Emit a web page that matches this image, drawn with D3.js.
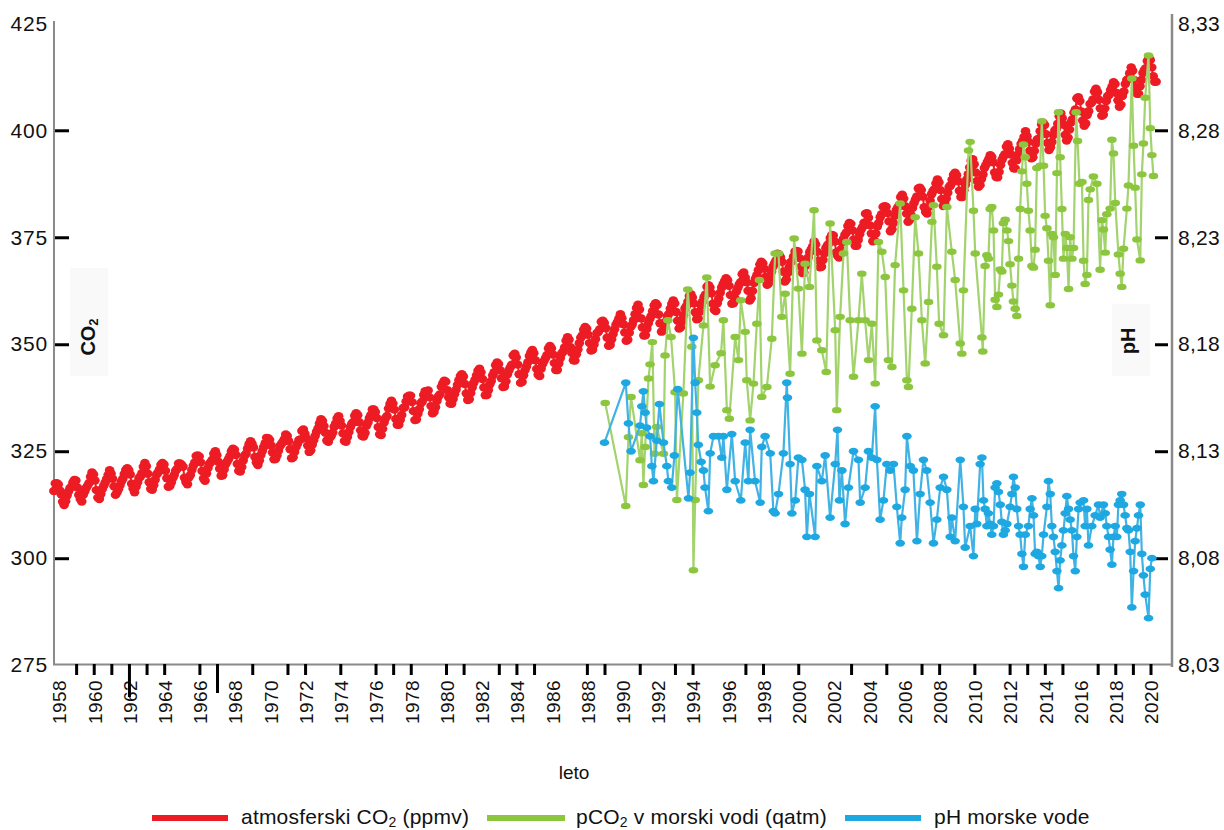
<!DOCTYPE html>
<html>
<head>
<meta charset="utf-8">
<script src="https://cdn.jsdelivr.net/npm/d3@7"></script>
<style>
  html, body { margin: 0; padding: 0; background: #fff; }
  svg { display: block; font-family: "Liberation Sans", Arial, Helvetica, sans-serif; }
</style>
</head>
<body>
<svg id="chart" width="1224" height="830"></svg>
<script>
// Atmospheric CO2 (Mauna Loa), monthly means in ppmv, one row per year from 1958
const co2FirstYear = 1958;
const co2Monthly = [
  [null,null,315.70,317.45,317.51,317.24,315.86,314.93,313.20,312.43,313.33,314.67],
  [315.62,316.38,316.71,317.72,318.29,318.15,316.54,314.80,313.84,313.26,314.80,315.58],
  [316.43,316.97,317.58,319.02,320.03,319.59,318.18,315.91,314.16,313.83,315.00,316.19],
  [316.93,317.70,318.54,319.48,320.58,319.77,318.57,316.79,314.80,315.38,316.10,317.01],
  [317.94,318.56,319.68,320.63,321.01,320.55,319.58,317.40,316.26,315.42,316.69,317.69],
  [318.74,319.08,319.86,321.39,322.25,321.47,319.74,317.77,316.21,315.99,317.07,318.35],
  [319.57,320.01,320.74,321.84,322.26,321.89,320.44,318.69,316.70,316.87,317.68,318.71],
  [319.44,320.44,320.89,322.13,322.16,321.87,321.39,318.81,317.81,317.30,318.87,319.42],
  [320.62,321.59,322.39,323.87,324.01,323.75,322.39,320.37,318.64,318.10,319.79,321.08],
  [322.07,322.50,323.04,324.42,325.00,324.09,322.54,320.92,319.25,319.39,320.73,321.96],
  [322.57,323.15,323.89,325.02,325.57,325.36,324.14,322.03,320.41,320.25,321.31,322.84],
  [324.00,324.42,325.64,326.66,327.34,326.76,325.88,323.67,322.38,321.78,322.85,324.11],
  [325.03,325.99,326.87,328.13,328.07,327.66,326.35,324.69,323.10,323.16,323.98,325.13],
  [326.17,326.68,327.18,327.78,328.92,328.57,327.34,325.46,323.36,323.57,324.80,326.01],
  [326.77,327.63,327.75,329.72,330.07,329.09,328.04,326.32,324.84,325.20,326.50,327.55],
  [328.55,329.56,330.30,331.50,332.48,332.07,330.87,329.31,327.51,327.18,328.16,328.64],
  [329.35,330.71,331.48,332.65,333.16,332.06,330.99,329.17,327.41,327.20,328.33,329.50],
  [330.68,331.41,331.85,333.29,333.91,333.40,331.78,329.88,328.57,328.46,329.26,330.97],
  [331.71,332.76,333.48,334.78,334.78,334.17,332.78,330.64,328.95,328.77,330.23,331.69],
  [332.70,333.24,334.96,336.04,336.82,336.13,334.73,332.52,331.19,331.19,332.35,333.47],
  [335.11,335.26,336.60,337.77,338.00,337.99,336.48,334.37,332.27,332.41,333.76,334.83],
  [336.21,336.64,338.12,339.02,339.02,339.20,337.58,335.55,333.89,334.14,335.26,336.71],
  [337.81,338.29,340.04,340.86,341.47,341.26,339.29,337.60,336.12,336.08,337.22,338.34],
  [339.36,340.51,341.57,342.56,343.01,342.47,340.71,338.52,336.96,337.13,338.58,339.89],
  [340.93,341.69,342.69,343.79,344.30,343.43,341.88,339.89,338.10,338.11,339.27,340.67],
  [341.42,342.68,343.46,345.10,345.76,345.36,343.91,342.05,340.00,340.12,341.33,342.94],
  [343.87,344.60,345.20,347.36,347.81,346.92,345.25,343.00,340.97,341.20,342.76,343.96],
  [344.82,345.82,347.24,348.09,348.66,347.90,346.27,344.21,342.88,342.58,344.27,345.41],
  [346.12,346.78,347.48,349.03,349.62,349.03,347.62,345.59,343.99,343.99,345.48,346.72],
  [347.84,348.29,349.23,350.80,351.66,351.07,349.33,347.92,346.27,346.18,347.64,348.78],
  [350.25,351.54,352.05,353.41,354.04,353.62,352.22,350.27,348.55,348.72,349.91,351.18],
  [352.60,352.92,353.53,355.26,355.52,354.97,353.75,351.52,349.64,349.83,351.14,352.37],
  [353.50,354.55,355.23,356.04,357.00,356.07,354.67,352.76,350.82,351.04,352.69,354.07],
  [354.59,355.63,357.03,358.48,359.22,358.12,356.06,353.92,352.05,352.11,353.64,354.89],
  [355.88,356.63,357.72,359.07,359.58,359.17,356.94,354.92,352.94,353.23,354.09,355.33],
  [356.63,357.10,358.32,359.41,360.23,359.55,357.53,355.48,353.67,353.95,355.30,356.78],
  [358.34,358.89,359.95,361.25,361.67,360.94,359.55,357.49,355.84,356.00,357.58,359.04],
  [359.97,361.00,361.64,363.45,363.79,363.26,361.90,359.46,358.06,357.75,359.56,360.70],
  [362.05,363.25,364.03,364.72,365.41,364.97,363.65,361.49,359.46,359.60,360.76,362.33],
  [363.18,364.00,364.57,366.35,366.79,365.62,364.47,362.51,360.19,360.77,362.43,364.28],
  [365.32,366.15,367.31,368.61,369.30,368.88,367.64,365.78,363.90,364.23,365.46,366.97],
  [368.15,368.87,369.59,371.14,371.00,370.35,369.27,366.94,364.63,365.12,366.67,368.01],
  [369.14,369.46,370.52,371.66,371.82,371.70,370.12,368.12,366.62,366.73,368.29,369.53],
  [370.28,371.50,372.12,372.87,374.02,373.30,371.62,369.55,367.96,368.09,369.68,371.24],
  [372.44,373.08,373.52,374.85,375.55,375.40,374.02,371.48,370.70,370.25,372.08,373.78],
  [374.68,375.62,376.11,377.65,378.35,378.13,376.62,374.50,372.99,373.01,374.35,375.70],
  [376.79,377.37,378.41,380.52,380.63,379.57,377.79,375.86,374.06,374.24,375.86,377.48],
  [378.37,379.69,380.41,382.10,382.28,382.13,380.66,378.71,376.42,376.88,378.32,380.04],
  [381.36,381.98,382.48,384.34,384.92,384.03,382.26,380.52,378.63,379.01,380.17,381.85],
  [382.93,383.81,384.56,386.40,386.58,386.05,384.49,382.00,380.90,380.57,382.05,383.53],
  [385.05,385.79,386.25,387.57,388.50,387.81,386.01,383.95,382.31,382.80,384.05,385.41],
  [386.77,387.16,388.45,389.62,390.08,389.51,388.09,385.87,384.39,384.39,385.98,387.27],
  [388.52,389.76,391.30,392.88,393.23,392.06,390.13,388.15,386.80,387.18,388.59,389.68],
  [391.18,391.86,392.60,393.25,394.19,393.74,392.51,390.13,389.08,388.99,390.28,391.86],
  [393.12,393.86,394.40,396.18,396.74,395.71,394.36,392.39,391.11,391.05,392.98,394.34],
  [395.55,396.80,397.43,398.41,399.78,398.60,397.32,395.20,393.45,393.70,395.16,396.84],
  [397.85,398.01,399.77,401.38,401.78,401.25,399.10,397.03,395.38,396.03,397.28,398.91],
  [399.98,400.28,401.54,403.28,403.96,402.80,401.31,398.93,397.63,398.29,400.16,401.85],
  [402.56,404.12,404.87,407.45,407.72,406.83,404.41,402.27,401.05,401.59,403.55,404.45],
  [406.17,406.46,407.22,409.04,409.69,408.88,407.12,405.13,403.37,403.63,405.12,406.81],
  [407.96,408.32,409.41,410.24,411.24,410.79,408.71,406.99,405.51,406.00,408.02,409.07],
  [410.83,411.75,411.97,413.32,414.66,413.92,411.77,409.95,408.54,408.53,410.27,411.76],
  [413.40,414.11,414.50,416.21,417.07,416.39,414.70,412.65,411.34,411.36,null,null]
];

// Surface seawater pCO2 (µatm): [decimal year, value]
const pco2Sea = [
  [1989.51,336.3],[1990.68,312.2],[1990.83,328.3],[1990.98,337.7],[1991.49,322.9],[1991.59,329.2],
  [1991.68,317.1],[1991.78,326.0],[1991.97,342.0],[1992.06,345.3],[1992.19,350.5],[1992.31,324.4],
  [1992.44,330.7],[1992.82,324.4],[1992.91,347.4],[1993.07,355.6],[1993.25,351.7],[1993.48,338.8],
  [1993.58,313.6],[1993.95,338.5],[1994.20,362.8],[1994.43,349.4],[1994.52,297.2],[1994.62,313.6],
  [1994.80,341.6],[1995.09,354.4],[1995.28,365.6],[1995.47,340.1],[1995.75,345.1],[1996.09,347.9],
  [1996.22,355.6],[1996.42,334.6],[1996.56,332.6],[1996.89,351.7],[1997.08,346.3],[1997.21,360.3],
  [1997.46,352.9],[1997.55,341.6],[1997.74,332.2],[1997.93,340.8],[1998.12,354.8],[1998.27,365.0],
  [1998.40,337.7],[1998.69,340.0],[1998.97,351.3],[1999.16,371.2],[1999.35,371.2],[1999.54,356.4],
  [1999.73,361.8],[2000.01,343.1],[2000.24,374.7],[2000.48,363.0],[2000.68,347.8],[2000.86,368.8],
  [2001.11,363.4],[2001.37,381.3],[2001.53,350.9],[2001.81,348.6],[2002.06,343.5],[2002.28,378.2],
  [2002.57,353.3],[2002.66,334.6],[2002.85,356.4],[2003.04,371.2],[2003.23,373.9],[2003.42,355.6],
  [2003.61,342.4],[2003.89,355.6],[2004.08,366.5],[2004.27,355.6],[2004.46,346.3],[2004.65,354.8],
  [2004.84,340.8],[2005.03,373.9],[2005.22,371.6],[2005.41,365.7],[2005.59,346.3],[2005.79,344.7],
  [2005.97,368.5],[2006.26,382.9],[2006.45,362.6],[2006.64,341.6],[2006.73,340.0],[2006.92,358.3],
  [2007.11,379.7],[2007.30,371.2],[2007.49,355.6],[2007.68,345.5],[2007.87,359.9],[2008.06,378.6],
  [2008.15,382.5],[2008.34,368.1],[2008.47,354.8],[2008.72,352.1],[2008.91,382.1],[2009.19,371.6],
  [2009.38,365.0],[2009.67,350.2],[2009.76,347.8],[2009.85,362.6],[2010.14,395.3],[2010.23,397.3],
  [2010.42,381.2],[2010.52,371.2],[2010.90,351.6],[2010.95,348.3],[2011.08,368.3],[2011.18,370.8],
  [2011.27,370.0],[2011.37,381.6],[2011.46,382.1],[2011.56,376.6],[2011.65,360.4],[2011.75,358.7],
  [2011.84,361.6],[2011.94,367.5],[2012.03,367.0],[2012.12,378.3],[2012.22,379.1],[2012.32,376.6],
  [2012.41,374.1],[2012.50,368.7],[2012.60,363.7],[2012.69,360.0],[2012.79,358.3],[2012.88,356.6],
  [2012.98,370.0],[2013.07,381.6],[2013.17,390.4],[2013.26,396.7],[2013.36,393.7],[2013.45,387.5],
  [2013.54,381.2],[2013.64,376.6],[2013.74,368.3],[2013.83,367.9],[2013.92,372.1],[2014.02,391.2],
  [2014.21,391.7],[2014.30,402.1],[2014.40,391.7],[2014.49,380.0],[2014.59,377.1],[2014.68,369.5],
  [2014.78,359.1],[2014.87,375.8],[2014.96,375.0],[2015.06,366.2],[2015.16,390.0],[2015.25,404.2],
  [2015.34,393.7],[2015.44,381.6],[2015.53,370.0],[2015.63,375.8],[2015.72,372.5],[2015.82,362.9],
  [2015.91,375.0],[2016.01,370.0],[2016.10,372.5],[2016.25,404.2],[2016.33,397.5],[2016.44,387.5],
  [2016.58,387.9],[2016.67,369.5],[2016.76,364.1],[2016.86,366.2],[2016.95,383.7],[2017.05,386.2],
  [2017.23,389.2],[2017.43,387.5],[2017.61,367.4],[2017.71,379.0],[2017.80,376.8],[2017.90,371.4],
  [2017.99,380.4],[2018.18,381.7],[2018.28,397.8],[2018.37,394.6],[2018.47,383.0],[2018.65,371.0],
  [2018.75,366.5],[2018.84,363.4],[2018.94,372.3],[2019.13,381.7],[2019.22,387.1],[2019.41,412.1],
  [2019.51,396.4],[2019.60,386.6],[2019.70,374.5],[2019.89,369.6],[2019.98,389.7],[2020.07,396.9],
  [2020.17,407.6],[2020.36,417.5],[2020.46,400.5],[2020.55,394.2],[2020.64,389.3]
];

// Surface seawater pH: [decimal year, value]
const phSea = [
  [1989.47,8.134],[1990.68,8.162],[1990.83,8.143],[1990.98,8.130],[1991.49,8.142],[1991.59,8.151],
  [1991.68,8.158],[1991.78,8.148],[1991.87,8.141],[1992.06,8.137],[1992.16,8.123],[1992.25,8.116],
  [1992.44,8.135],[1992.59,8.152],[1992.82,8.134],[1993.01,8.123],[1993.10,8.116],[1993.29,8.113],
  [1993.44,8.128],[1993.63,8.159],[1994.24,8.108],[1994.33,8.120],[1994.52,8.183],[1994.62,8.162],
  [1994.71,8.148],[1994.80,8.133],[1994.96,8.125],[1995.09,8.121],[1995.18,8.113],[1995.37,8.102],
  [1995.47,8.129],[1995.66,8.137],[1995.94,8.137],[1996.13,8.127],[1996.22,8.137],[1996.42,8.112],
  [1996.70,8.138],[1996.89,8.116],[1997.21,8.107],[1997.46,8.134],[1997.64,8.116],[1997.74,8.140],
  [1998.02,8.116],[1998.31,8.106],[1998.40,8.132],[1998.59,8.137],[1998.88,8.129],[1999.06,8.102],
  [1999.16,8.101],[1999.35,8.110],[1999.63,8.129],[1999.82,8.162],[1999.86,8.155],[2000.01,8.124],
  [2000.11,8.101],[2000.30,8.107],[2000.48,8.127],[2000.68,8.126],[2000.86,8.112],[2000.96,8.090],
  [2001.11,8.110],[2001.43,8.090],[2001.53,8.123],[2001.81,8.116],[2002.00,8.128],[2002.28,8.099],
  [2002.57,8.124],[2002.70,8.140],[2002.81,8.107],[2002.95,8.121],[2003.13,8.096],[2003.32,8.113],
  [2003.61,8.130],[2003.89,8.126],[2003.99,8.106],[2004.27,8.113],[2004.46,8.130],[2004.65,8.127],
  [2004.84,8.151],[2004.94,8.126],[2005.12,8.098],[2005.31,8.107],[2005.50,8.124],[2005.69,8.121],
  [2005.88,8.124],[2006.07,8.104],[2006.26,8.087],[2006.35,8.099],[2006.54,8.112],[2006.64,8.137],
  [2006.83,8.123],[2007.01,8.121],[2007.21,8.088],[2007.39,8.110],[2007.58,8.126],[2007.77,8.121],
  [2007.96,8.106],[2008.15,8.087],[2008.34,8.098],[2008.53,8.113],[2008.72,8.118],[2008.91,8.112],
  [2009.10,8.090],[2009.19,8.099],[2009.38,8.088],[2009.67,8.126],[2009.85,8.104],[2009.95,8.085],
  [2010.23,8.095],[2010.42,8.081],[2010.52,8.103],[2010.61,8.096],[2010.80,8.124],[2010.90,8.127],
  [2010.99,8.107],[2011.08,8.103],[2011.18,8.095],[2011.27,8.101],[2011.37,8.096],[2011.46,8.091],
  [2011.56,8.095],[2011.65,8.113],[2011.75,8.115],[2011.84,8.111],[2011.94,8.105],[2012.03,8.097],
  [2012.12,8.091],[2012.22,8.093],[2012.32,8.096],[2012.50,8.104],[2012.60,8.110],[2012.69,8.118],
  [2012.79,8.113],[2012.88,8.103],[2012.98,8.095],[2013.07,8.091],[2013.17,8.082],[2013.26,8.076],
  [2013.36,8.091],[2013.54,8.095],[2013.64,8.103],[2013.74,8.108],[2013.83,8.100],[2013.92,8.082],
  [2014.02,8.083],[2014.11,8.081],[2014.21,8.076],[2014.30,8.081],[2014.40,8.091],[2014.59,8.104],
  [2014.68,8.116],[2014.78,8.110],[2014.87,8.095],[2014.96,8.090],[2015.06,8.083],[2015.16,8.074],
  [2015.25,8.066],[2015.34,8.079],[2015.44,8.086],[2015.53,8.093],[2015.63,8.101],[2015.72,8.109],
  [2015.82,8.103],[2015.91,8.098],[2016.01,8.093],[2016.10,8.081],[2016.20,8.074],[2016.29,8.090],
  [2016.39,8.103],[2016.48,8.106],[2016.67,8.107],[2016.76,8.095],[2016.86,8.103],[2016.95,8.086],
  [2017.14,8.095],[2017.33,8.100],[2017.52,8.105],[2017.61,8.099],[2017.80,8.105],[2017.90,8.101],
  [2017.99,8.095],[2018.09,8.090],[2018.18,8.084],[2018.28,8.077],[2018.37,8.090],[2018.47,8.095],
  [2018.56,8.090],[2018.65,8.105],[2018.75,8.107],[2018.84,8.110],[2018.94,8.105],[2019.03,8.100],
  [2019.13,8.094],[2019.22,8.093],[2019.32,8.083],[2019.41,8.057],[2019.51,8.074],[2019.60,8.088],
  [2019.70,8.094],[2019.79,8.100],[2019.89,8.105],[2019.98,8.082],[2020.07,8.072],[2020.17,8.063],
  [2020.36,8.052],[2020.46,8.075],[2020.55,8.080]
];

const leftTicks = [275, 300, 325, 350, 375, 400, 425];
const rightTicks = [8.03, 8.08, 8.13, 8.18, 8.23, 8.28, 8.33];
const yearLabels = [1958,1960,1962,1964,1966,1968,1970,1972,1974,1976,1978,1980,1982,1984,1986,1988,
                    1990,1992,1994,1996,1998,2000,2002,2004,2006,2008,2010,2012,2014,2016,2018,2020];
const tickYears = [1959,1960,1961,1962,1963,1964,1966,1967,1969,1971,1972,1974,1976,1977,1978,1980,1981,
                   1983,1984,1985,1988,1989,1991,1993,1994,1997,1998,2000,2003,2005,2007,2008,2010,2012,
                   2013,2014,2015,2017,2018,2019,2020];
const longTickYears = [1962, 1967];

// legend entries: text before the subscript, subscript, text after it
const legendLabels = [
  ["atmosferski CO", "2", " (ppmv)"],
  ["pCO", "2", " v morski vodi (qatm)"],
  ["pH morske vode", "", ""]
];
const seriesColors = ["#ed1c24", "#8cc63f", "#1ea8e1"];
const seriesLineColors = ["#ed1c24", "#a2d36c", "#40b2e4"];

// ---------------------------------------------------------------
const svg = d3.select("#chart");
svg.append("rect").attr("width", 1224).attr("height", 830).attr("fill", "#fff");

const x = d3.scaleLinear().domain([1958.5, 2020.5]).range([59, 1151]);
const yL = d3.scaleLinear().domain([275, 425]).range([665.2, 23.3]);
const yR = d3.scaleLinear().domain([8.03, 8.33]).range([665.2, 23.3]);

const commaLocale = d3.formatLocale({ decimal: ",", thousands: ".", grouping: [3], currency: ["", "€"] });

// soft panels behind the vertical axis titles
svg.append("rect").attr("x", 70).attr("y", 268).attr("width", 38).attr("height", 108).attr("fill", "#f9f9f9");
svg.append("rect").attr("x", 1112).attr("y", 304).attr("width", 38).attr("height", 72).attr("fill", "#f9f9f9");

// frame lines
const frame = svg.append("g").attr("stroke", "#8a8a8a").attr("fill", "none");
frame.append("line").attr("x1", 54).attr("x2", 54).attr("y1", 21).attr("y2", 665).attr("stroke-width", 2);
frame.append("line").attr("x1", 1172).attr("x2", 1172).attr("y1", 14).attr("y2", 667).attr("stroke-width", 2.5);
frame.append("line").attr("x1", 53).attr("x2", 1172).attr("y1", 664.5).attr("y2", 664.5).attr("stroke-width", 2);

// left axis (CO2 / pCO2)
const gL = svg.append("g").attr("transform", "translate(54,0)")
  .call(d3.axisLeft(yL).tickValues(leftTicks).tickSize(-15).tickSizeOuter(0).tickPadding(6).tickFormat(d3.format("d")));
gL.select(".domain").remove();
gL.selectAll(".tick line").attr("stroke", "#000").attr("stroke-width", 3).attr("x1", 1)
  .filter(d => d === 275 || d === 425).remove();
gL.selectAll(".tick text").attr("font-size", 21).attr("letter-spacing", 0.8).attr("fill", "#111").attr("font-family", null);

// right axis (pH)
const gR = svg.append("g").attr("transform", "translate(1172,0)")
  .call(d3.axisRight(yR).tickValues(rightTicks).tickSize(-17).tickSizeOuter(0).tickPadding(6).tickFormat(commaLocale.format(".2f")));
gR.select(".domain").remove();
gR.selectAll(".tick line").attr("stroke", "#000").attr("stroke-width", 3).attr("x1", -4)
  .filter(d => d === 8.03 || d === 8.33).remove();
gR.selectAll(".tick text").attr("font-size", 21).attr("letter-spacing", 0.3).attr("fill", "#111").attr("font-family", null);

// bottom axis: year labels centred in each year
const gB = svg.append("g").attr("transform", "translate(0,664)")
  .call(d3.axisBottom(x).tickValues(yearLabels.map(d => d + 0.5)).tickSize(0).tickFormat(d => String(Math.round(d - 0.5))));
gB.select(".domain").remove();
gB.selectAll(".tick text")
  .attr("transform", "rotate(-90)")
  .attr("text-anchor", "end")
  .attr("x", -16).attr("y", 0).attr("dy", "0.36em")
  .attr("font-size", 19).attr("letter-spacing", 0.4).attr("fill", "#111").attr("font-family", null);

// year tick marks
svg.append("g").attr("stroke", "#000").attr("stroke-width", 3)
  .selectAll("line").data(tickYears).join("line")
  .attr("x1", d => x(d + 0.5)).attr("x2", d => x(d + 0.5))
  .attr("y1", 664).attr("y2", d => longTickYears.includes(d) ? (d === 1962 ? 697 : 693) : 675);

// axis titles
svg.append("text").attr("transform", "translate(88,337) rotate(-90)")
  .attr("text-anchor", "middle").attr("dominant-baseline", "central")
  .attr("font-size", 20).attr("font-weight", "bold").attr("fill", "#111")
  .call(t => { t.append("tspan").text("CO"); t.append("tspan").attr("font-size", 13).attr("dy", 5).text("2"); });
svg.append("text").attr("transform", "translate(1128,341) rotate(-90)")
  .attr("text-anchor", "middle").attr("dominant-baseline", "central")
  .attr("font-size", 20).attr("font-weight", "bold").attr("fill", "#111").text("pH");
svg.append("text").attr("x", 574).attr("y", 779).attr("text-anchor", "middle")
  .attr("font-size", 19).attr("fill", "#111").text("leto");

// ---------------------------------------------------------------
// series
const co2Points = co2Monthly.flatMap((row, i) =>
  row.map((v, m) => v == null ? null : [co2FirstYear + i + (m + 0.5) / 12, v]).filter(Boolean));

const lineL = d3.line().x(d => x(d[0])).y(d => yL(d[1]));
const lineR = d3.line().x(d => x(d[0])).y(d => yR(d[1]));

const gCo2 = svg.append("g");
gCo2.append("path").datum(co2Points).attr("d", lineL)
  .attr("fill", "none").attr("stroke", seriesLineColors[0]).attr("stroke-width", 2);
gCo2.selectAll("ellipse").data(co2Points).join("ellipse")
  .attr("cx", d => x(d[0])).attr("cy", d => yL(d[1])).attr("rx", 4.8).attr("ry", 4.2)
  .attr("fill", seriesColors[0]);

const gP = svg.append("g");
gP.append("path").datum(pco2Sea).attr("d", lineL)
  .attr("fill", "none").attr("stroke", seriesLineColors[1]).attr("stroke-width", 2.2);
gP.selectAll("ellipse").data(pco2Sea).join("ellipse")
  .attr("cx", d => x(d[0])).attr("cy", d => yL(d[1])).attr("rx", 4.8).attr("ry", 3.2)
  .attr("fill", seriesColors[1]);

const gH = svg.append("g");
gH.append("path").datum(phSea).attr("d", lineR)
  .attr("fill", "none").attr("stroke", seriesLineColors[2]).attr("stroke-width", 2.2);
gH.selectAll("ellipse").data(phSea).join("ellipse")
  .attr("cx", d => x(d[0])).attr("cy", d => yR(d[1])).attr("rx", 4.8).attr("ry", 3.4)
  .attr("fill", seriesColors[2]);

// ---------------------------------------------------------------
// legend
const legendPos = [
  { x0: 152, x1: 228, tx: 241 },
  { x0: 487, x1: 565, tx: 576 },
  { x0: 845, x1: 921, tx: 934 }
];
const legend = svg.append("g").attr("fill", "#111");
legendLabels.forEach((parts, i) => {
  const p = legendPos[i];
  legend.append("line").attr("x1", p.x0).attr("x2", p.x1).attr("y1", 818).attr("y2", 818)
    .attr("stroke", seriesColors[i]).attr("stroke-width", 6);
  const t = legend.append("text").attr("x", p.tx).attr("y", 824).attr("font-size", 21).attr("letter-spacing", 0.2);
  t.append("tspan").text(parts[0]);
  if (parts[1]) {
    t.append("tspan").attr("font-size", 14).attr("dy", 2.5).text(parts[1]);
    t.append("tspan").attr("dy", -2.5).text(parts[2]);
  }
});
</script>
</body>
</html>
